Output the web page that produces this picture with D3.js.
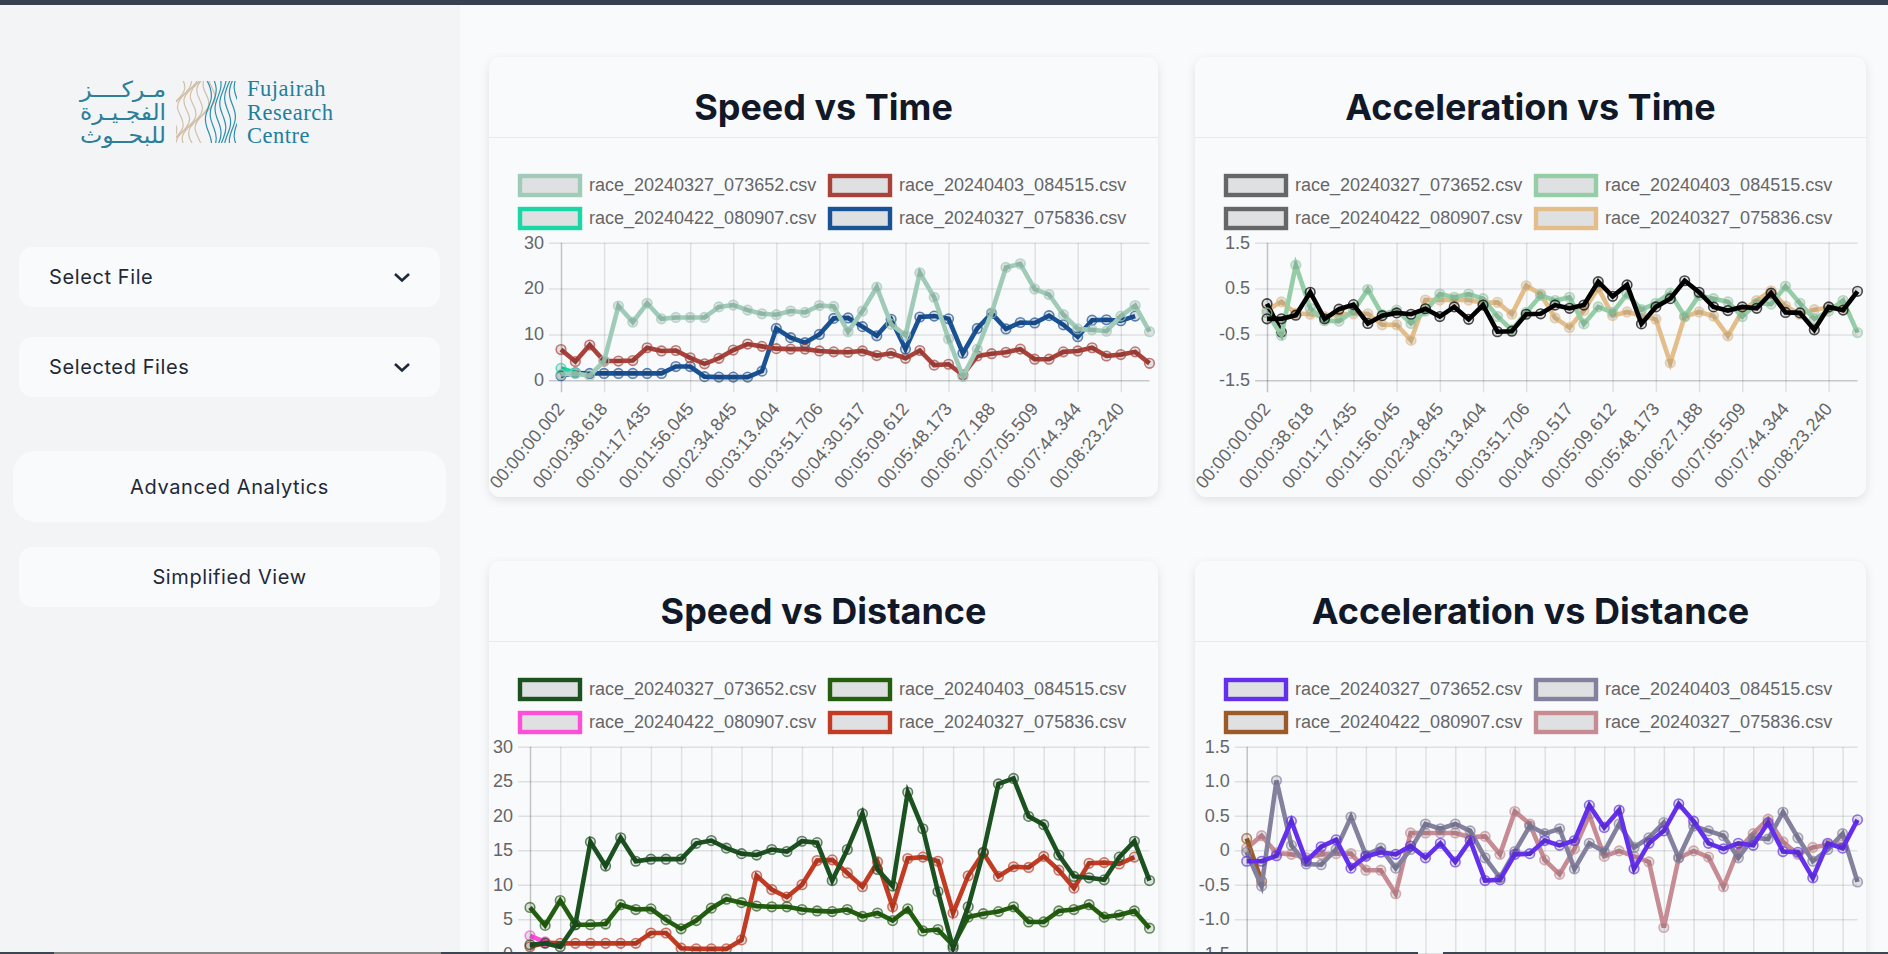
<!DOCTYPE html>
<html>
<head>
<meta charset="utf-8">
<title>Race dashboard</title>
<script src="https://cdn.jsdelivr.net/npm/d3@7"></script>
<style>
  html, body { margin: 0; padding: 0; width: 1888px; height: 954px; overflow: hidden; background: #f9fafc; }
  svg { display: block; }
  .tick text, .legend text { font-family: "Liberation Sans", Arial, sans-serif; font-size: 18px; fill: #666; }
  .domain { display: none; }
  .title { font-family: Inter, sans-serif; font-weight: 700; font-size: 36px; fill: #111827; text-anchor: middle; }
  .side { font-family: Inter, sans-serif; font-size: 20px; fill: #1f2937; letter-spacing: 0.6px; }
</style>
</head>
<body>
<svg id="page" width="1888" height="954"></svg>
<script>
// ============================================================
// Data
// ============================================================
const fileNames = ['race_20240327_073652.csv', 'race_20240403_084515.csv', 'race_20240422_080907.csv', 'race_20240327_075836.csv'];

const pointCount = d3.range(42);
const timeTicks = ['00:00:00.002', '00:00:38.618', '00:01:17.435', '00:01:56.045', '00:02:34.845', '00:03:13.404', '00:03:51.706',
  '00:04:30.517', '00:05:09.612', '00:05:48.173', '00:06:27.188', '00:07:05.509', '00:07:44.344', '00:08:23.240'];

const speed073652 = [1.3, 1.5, 1.0, 4.2, 16.2, 12.7, 16.8, 13.4, 13.7, 13.7, 13.7, 16.0, 16.4, 15.3, 14.5, 14.3, 15.1, 14.8, 16.3, 16.1, 10.6,
  15.1, 20.3, 12.2, 9.8, 23.4, 18.1, 9.0, 0.8, 6.8, 14.7, 24.6, 25.4, 19.9, 18.7, 14.3, 11.2, 11.0, 10.7, 14.0, 16.3, 10.6];
const speed084515 = [6.7, 4.1, 7.7, 4.2, 4.2, 4.3, 7.1, 6.4, 6.5, 4.9, 3.6, 4.8, 6.6, 7.9, 7.4, 6.9, 6.8, 6.8, 6.4, 6.2, 6.1,
  6.4, 5.4, 5.9, 4.8, 6.5, 3.3, 3.5, 1.2, 5.3, 5.8, 6.1, 6.8, 4.6, 4.6, 6.2, 6.4, 7.1, 5.3, 5.6, 6.2, 3.7];
const speed080907 = [2.6, 1.7];
const speed075836 = [1.0, 1.6, 1.5, 1.5, 1.5, 1.5, 1.5, 1.5, 3.0, 3.0, 0.8, 0.7, 0.7, 0.7, 2.0, 11.3, 9.3, 8.2, 10.0, 13.5, 13.6,
  11.7, 9.7, 13.3, 6.8, 13.8, 14.0, 13.4, 5.9, 11.3, 14.6, 11.2, 12.6, 12.5, 14.1, 12.1, 9.5, 13.1, 13.2, 13.0, 14.0];

const accel073652 = [-0.16, -0.16, -0.08, 0.42, -0.16, 0.05, 0.15, -0.26, -0.09, -0.03, -0.06, 0.06, -0.11, 0.1, -0.17, 0.14, -0.44, -0.43, -0.06, -0.05, 0.14,
  0.07, 0.14, 0.65, 0.33, 0.58, -0.27, 0.1, 0.28, 0.67, 0.42, 0.1, 0.02, 0.1, 0.07, 0.4, -0.02, -0.03, -0.4, 0.1, 0.03, 0.44];
const accel084515 = [-0.03, -0.52, 1.01, 0.07, -0.2, -0.21, 0.01, 0.48, -0.07, 0.03, -0.26, 0.01, 0.38, 0.31, 0.38, 0.28, -0.11, -0.4, -0.02, 0.35, 0.24,
  0.31, -0.27, 0.1, -0.02, 0.38, 0.04, 0.18, 0.4, -0.11, 0.35, 0.28, 0.21, -0.11, 0.18, 0.16, 0.55, 0.18, -0.16, 0.01, 0.24, -0.46];
const accel080907 = [0.17, -0.45];
const accel075836 = [0.03, 0.21, -0.04, -0.06, -0.11, -0.06, -0.05, -0.05, -0.29, -0.29, -0.63, 0.25, 0.25, 0.25, 0.25, 0.19, 0.2, -0.06, 0.56, 0.38, -0.14,
  -0.35, 0.02, 0.51, -0.09, -0.01, -0.09, -0.17, -1.12, -0.11, -0.01, -0.1, -0.53, 0.01, 0.24, 0.45, 0.12, -0.06, 0.04, 0.08, 0.08];

const speedSeries = [speed073652, speed084515, speed080907, speed075836];
const accelSeries = [accel073652, accel084515, accel080907, accel075836];

const speedTicks3 = [0, 10, 20, 30];
const speedTicks4 = [0, 5, 10, 15, 20, 25, 30];
const accelTicks3 = [-1.5, -0.5, 0.5, 1.5];
const accelTicks4 = [-1.5, -1, -0.5, 0, 0.5, 1, 1.5];

// ============================================================
// Layout of the four cards
// ============================================================
const charts = [
  { title: 'Speed vs Time', card: [489, 57, 669, 440], plot: [561, 1149.5, 242.7, 380.3], series: speedSeries, yTicks: speedTicks3, step: 3,
    colors: ['#9fcbb8', '#a9423a', '#1bd6a5', '#1a5296'], legend: ['#9fcbb8', '#a9423a', '#1bd6a5', '#1a5296'], labels: true },
  { title: 'Acceleration vs Time', card: [1195, 57, 671, 440], plot: [1267, 1857.5, 242.7, 380.3], series: accelSeries, yTicks: accelTicks3, step: 3,
    colors: ['#000', '#94cda6', '#000', '#e3be8a'], legend: ['#666', '#94cda6', '#666', '#e3be8a'], labels: true },
  { title: 'Speed vs Distance', card: [489, 561, 669, 440], plot: [530, 1149.5, 746.7, 953.7], series: speedSeries, yTicks: speedTicks4, step: 2,
    colors: ['#1c5120', '#235f0e', '#ff4fd8', '#c23b22'], legend: ['#1c5120', '#235f0e', '#ff4fd8', '#c23b22'], labels: false },
  { title: 'Acceleration vs Distance', card: [1195, 561, 671, 440], plot: [1246.7, 1857.5, 746.7, 953.7], series: accelSeries, yTicks: accelTicks4, step: 2,
    colors: ['#6430ee', '#84819f', '#9c5a28', '#c78b93'], legend: ['#6430ee', '#84819f', '#9c5a28', '#c78b93'], labels: false }
];

const svg = d3.select('#page');

const defs = svg.append('defs');
defs.append('filter').attr('id', 'cardShadow').attr('x', '-5%').attr('y', '-5%').attr('width', '110%').attr('height', '110%')
  .append('feDropShadow').attr('dx', 0).attr('dy', 3).attr('stdDeviation', 5).attr('flood-color', '#000').attr('flood-opacity', 0.1);

// ============================================================
// Sidebar
// ============================================================
svg.append('rect').attr('width', 460).attr('height', 954).attr('fill', '#f3f4f6');

function sideBox(x, y, w, h, r) {
  svg.append('rect').attr('x', x).attr('y', y).attr('width', w).attr('height', h).attr('rx', r).attr('fill', '#f9fafc');
}
function chevron(cy) {
  svg.append('path').attr('d', `M395,${cy - 3} L402,${cy + 3.5} L409,${cy - 3}`)
    .attr('fill', 'none').attr('stroke', '#1f2937').attr('stroke-width', 2.6);
}

sideBox(19, 247, 421, 60, 14);
sideBox(19, 337, 421, 60, 14);
sideBox(13, 451, 433, 71, 22);
sideBox(19, 547, 421, 60, 14);
svg.append('text').attr('class', 'side').attr('x', 49).attr('y', 284).text('Select File');
svg.append('text').attr('class', 'side').attr('x', 49).attr('y', 374).text('Selected Files');
svg.append('text').attr('class', 'side').attr('x', 229.5).attr('y', 494).attr('text-anchor', 'middle').text('Advanced Analytics');
svg.append('text').attr('class', 'side').attr('x', 229.5).attr('y', 584).attr('text-anchor', 'middle').text('Simplified View');
chevron(277);
chevron(367);

// logo: text lockup and a wavy contour mark
const logoLines = ['مـركــــز', 'الفجـيـرة', 'للبحــوث'];
logoLines.forEach((t, i) => {
  svg.append('text').attr('x', 166).attr('y', 97 + i * 23).attr('text-anchor', 'end')
    .attr('font-family', '"DejaVu Sans", sans-serif').attr('font-size', 22).attr('fill', '#2c7f99')
    .attr('textLength', 86).attr('lengthAdjust', 'spacingAndGlyphs').text(t);
});
['Fujairah', 'Research', 'Centre'].forEach((t, i) => {
  svg.append('text').attr('x', 247).attr('y', 96 + i * 23.5)
    .attr('font-family', '"Liberation Serif", serif').attr('font-size', 22.5).attr('letter-spacing', 0.5)
    .attr('fill', '#1f7f9b').text(t);
});
defs.append('clipPath').attr('id', 'logoClip').append('rect').attr('x', 176).attr('y', 81).attr('width', 61).attr('height', 62);
const logo = svg.append('g').attr('clip-path', 'url(#logoClip)').attr('fill', 'none').attr('stroke-width', 1.2);
const wave = d3.line().curve(d3.curveBasis);
d3.range(15).forEach(k => {
  const baseX = 170 + k * 4.8;
  const amp = k < 8 ? 8 : 4;
  const pts = d3.range(0, 8).map(j => [baseX + amp * Math.sin(j * 1.3 + k * 0.7) + (k < 8 ? (j - 4) * -3 : 0), 78 + j * 10]);
  logo.append('path').attr('d', wave(pts)).attr('stroke', k < 8 ? '#d2bfa8' : '#2f8fae');
});

// ============================================================
// Charts
// ============================================================
function tickText(d) {
  if (d === 0) return '0';
  return (Number.isInteger(d) && Math.abs(d) >= 5) ? String(d) : d.toFixed(1);
}

function drawChart(c) {
  const [cx, cy, cw, ch] = c.card;
  const [x0, x1, yTop, yBottom] = c.plot;
  const xScale = d3.scalePoint().domain(pointCount).range([x0, x1]);
  const yScale = d3.scaleLinear().domain(d3.extent(c.yTicks)).range([yBottom, yTop]);

  // card
  svg.append('rect').attr('x', cx).attr('y', cy).attr('width', cw).attr('height', ch).attr('rx', 12)
    .attr('fill', '#f9fafc').attr('filter', 'url(#cardShadow)');
  svg.append('line').attr('x1', cx).attr('x2', cx + cw).attr('y1', cy + 80.5).attr('y2', cy + 80.5).attr('stroke', '#e7e9ec');
  svg.append('text').attr('class', 'title').attr('x', cx + cw / 2).attr('y', cy + 63).text(c.title);

  // legend, two rows of two
  const legendX = cx + 29;
  const legend = svg.append('g').attr('class', 'legend');
  fileNames.forEach((name, i) => {
    const lx = legendX + (i % 2) * 310;
    const ly = cy + 117 + Math.floor(i / 2) * 33;
    legend.append('rect').attr('x', lx + 2).attr('y', ly + 2).attr('width', 60).attr('height', 19)
      .attr('fill', 'rgba(0,0,0,0.1)').attr('stroke', c.legend[i]).attr('stroke-width', 4.4);
    legend.append('text').attr('x', lx + 71).attr('y', ly + 17).text(name);
  });

  // axes and grid
  const tickIndex = pointCount.filter(i => i % c.step === 0);
  const xAxis = d3.axisBottom(xScale).tickValues(tickIndex).tickSize(-(yBottom - yTop))
    .tickFormat(i => c.labels ? timeTicks[i / 3] : '');
  const xG = svg.append('g').attr('transform', `translate(0,${yBottom})`).call(xAxis);
  xG.selectAll('line').attr('y1', 12).attr('stroke', 'rgba(0,0,0,0.1)').attr('stroke-width', 1.5);
  xG.select('.tick line').attr('stroke', 'rgba(0,0,0,0.22)');
  xG.selectAll('text').attr('text-anchor', 'end').attr('dy', 0).attr('x', 0).attr('y', 0)
    .attr('transform', 'translate(4,29) rotate(-50)');

  const yAxis = d3.axisLeft(yScale).tickValues(c.yTicks).tickSize(-(x1 - x0)).tickPadding(17).tickFormat(tickText);
  const yG = svg.append('g').attr('transform', `translate(${x0},0)`).call(yAxis);
  yG.selectAll('line').attr('x1', -12).attr('stroke', 'rgba(0,0,0,0.1)').attr('stroke-width', 1.5);
  yG.selectAll('.tick').filter(d => d === c.yTicks[0]).select('line').attr('stroke', 'rgba(0,0,0,0.2)');
  yG.selectAll('text').attr('dy', '0.3em');

  // series, first file drawn last so it stays on top
  const line = d3.line().x((d, i) => xScale(i)).y(d => yScale(d));
  d3.range(c.series.length - 1, -1, -1).forEach(k => {
    const values = c.series[k];
    const g = svg.append('g');
    g.append('path').attr('d', line(values)).attr('fill', 'none').attr('stroke', c.colors[k]).attr('stroke-width', 4.6);
    g.selectAll('circle').data(values).join('circle')
      .attr('cx', (d, i) => xScale(i)).attr('cy', d => yScale(d)).attr('r', 4.8)
      .attr('fill', 'rgba(0,0,0,0.1)').attr('stroke', c.colors[k]).attr('stroke-width', 1.6).attr('stroke-opacity', 0.7);
  });
}

charts.forEach(drawChart);

// ============================================================
// Window chrome: top strip and the scrollbar sliver at the bottom
// ============================================================
svg.append('rect').attr('width', 1888).attr('height', 5).attr('fill', '#374151');
const bottomBar = [[0, 54, '#3d4650'], [54, 387, '#858585'], [441, 977, '#3d4650'], [1443, 445, '#3d4650']];
bottomBar.forEach(b => {
  svg.append('rect').attr('x', b[0]).attr('y', 952).attr('width', b[1]).attr('height', 2).attr('fill', b[2]);
});
</script>
</body>
</html>
